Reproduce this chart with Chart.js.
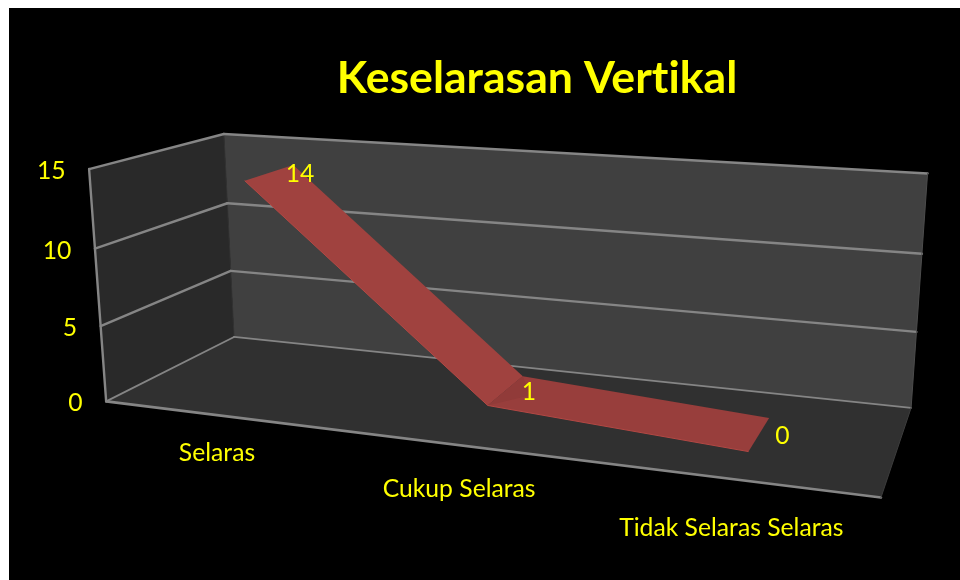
<!DOCTYPE html>
<html><head><meta charset="utf-8">
<style>html,body{margin:0;padding:0;background:#fff;overflow:hidden}#wrap{position:absolute;left:0;top:0;width:960px;height:580px}</style>
<script src="https://cdn.jsdelivr.net/npm/chart.js@4"></script>
</head><body><div id="wrap"><canvas id="c" width="960" height="580"></canvas></div>
<script>
const titleText = 'Keselarasan Vertikal';
const categories = ['Selaras', 'Cukup Selaras', 'Tidak Selaras Selaras'];
const values = [14, 1, 0];
const yTicks = [0, 5, 10, 15];

const FONT = 'Lato, Carlito, sans-serif';
const YELLOW = '#ffff00';
// Box corners as seen in the picture: [u, depth, height] -> [px, py]
const anchors = [
 [0,0,0,105.5,401.7],[1,0,0,881,497.3],[1,1,0,911.7,408],[0,1,0,234,336.7],
 [0,0,1,88.3,169.3],[0,1,1,224,134],[1,1,1,928.3,173.3],
 [0,0,1/3,101.3,326],[0,0,2/3,95.7,248.3],[0,1,1/3,230.7,271],[0,1,2/3,227.3,203.3],
 [1,1,1/3,916,332],[1,1,2/3,921,254]
];
function solveCamera(){
  const A=[],b=[];
  for(const [u,v,w,x,y] of anchors){
    const X=x/500,Y=y/500;
    A.push([u,v,w,1,0,0,0,0,-X*u,-X*v,-X*w]);b.push(X);
    A.push([0,0,0,0,u,v,w,1,-Y*u,-Y*v,-Y*w]);b.push(Y);
  }
  const n=11,M=[];
  for(let i=0;i<n;i++){M.push(new Array(n+1).fill(0));
    for(let j=0;j<n;j++)for(let r=0;r<A.length;r++)M[i][j]+=A[r][i]*A[r][j];
    for(let r=0;r<A.length;r++)M[i][n]+=A[r][i]*b[r];}
  for(let i=0;i<n;i++){let p=i;for(let r=i+1;r<n;r++)if(Math.abs(M[r][i])>Math.abs(M[p][i]))p=r;
    [M[i],M[p]]=[M[p],M[i]];
    for(let r=0;r<n;r++){if(r===i)continue;const f=M[r][i]/M[i][i];for(let c=i;c<=n;c++)M[r][c]-=f*M[i][c];}}
  return M.map((row,i)=>row[n]/row[i]);
}
const cam=solveCamera();
function project(u,v,w){
  const d=cam[8]*u+cam[9]*v+cam[10]*w+1;
  return [500*(cam[0]*u+cam[1]*v+cam[2]*w+cam[3])/d,500*(cam[4]*u+cam[5]*v+cam[6]*w+cam[7])/d];
}
const RIBBON_FRONT=0.29, RIBBON_BACK=0.69;
function boxPoint(chart,i,val,depth){
  const x=chart.scales.x,y=chart.scales.y;
  return project((x.getPixelForValue(i)-x.left)/x.width,depth,(y.bottom-y.getPixelForValue(val))/y.height);
}
function poly(ctx,pts,fill){ctx.beginPath();pts.forEach((p,i)=>i?ctx.lineTo(p[0],p[1]):ctx.moveTo(p[0],p[1]));ctx.closePath();ctx.fillStyle=fill;ctx.fill();}
function seg(ctx,a,b,color,lw){ctx.beginPath();ctx.moveTo(a[0],a[1]);ctx.lineTo(b[0],b[1]);ctx.strokeStyle=color;ctx.lineWidth=lw;ctx.lineCap='round';ctx.stroke();}

const scene={
  id:'scene',
  beforeDraw(chart){
    const c=chart.ctx;c.save();c.fillStyle='#000';c.fillRect(9,8,951,572);c.restore();
    c.letterSpacing='0.01px';
  },
  afterDatasetsUpdate(chart){
    const pts=chart.getDatasetMeta(0).data;
    pts.forEach((p,i)=>{const q=boxPoint(chart,i,values[i],RIBBON_FRONT);p.x=q[0];p.y=q[1];});
  },
  beforeDatasetsDraw(chart){
    const c=chart.ctx;c.save();
    const P=project;
    poly(c,[P(0,1,0),P(1,1,0),P(1,1,1),P(0,1,1)],'#404040');
    poly(c,[P(0,0,0),P(0,1,0),P(0,1,1),P(0,0,1)],'#292929');
    poly(c,[P(0,0,0),P(1,0,0),P(1,1,0),P(0,1,0)],'#303030');
    seg(c,P(0,1,0),P(0,1,1),'#333333',1);
    const y=chart.scales.y;
    y.ticks.forEach(t=>{
      const w=(y.bottom-y.getPixelForValue(t.value))/y.height;
      const lw=t.value===0?1.8:2.4;
      seg(c,P(0,0,w),P(0,1,w),'#858585',lw);
      seg(c,P(0,1,w),P(1,1,w),'#858585',lw);
    });
    seg(c,P(0,0,0),P(0,0,1),'#858585',2.4);
    seg(c,P(0,0,0),P(1,0,0),'#858585',2.6);
    seg(c,P(1,0,0),P(1,1,0),'#3c3c3c',1);
    seg(c,P(1,1,0),P(1,1,1),'#4c4c4c',1);
    const segFill=['#a0423f','#983e3c'];
    for(let i=0;i<values.length-1;i++){
      poly(c,[boxPoint(chart,i,values[i],RIBBON_FRONT),boxPoint(chart,i+1,values[i+1],RIBBON_FRONT),
              boxPoint(chart,i+1,values[i+1],RIBBON_BACK),boxPoint(chart,i,values[i],RIBBON_BACK)],segFill[i]);
    }
    // soft fold where the ribbon turns at the middle category
    const mf=boxPoint(chart,1,values[1],RIBBON_FRONT),mb=boxPoint(chart,1,values[1],RIBBON_BACK);
    const ef=boxPoint(chart,2,values[2],RIBBON_FRONT),eb=boxPoint(chart,2,values[2],RIBBON_BACK);
    const k=0.1,wedge=[(mf[0]+mb[0])/2+k*((ef[0]+eb[0])/2-(mf[0]+mb[0])/2),(mf[1]+mb[1])/2+k*((ef[1]+eb[1])/2-(mf[1]+mb[1])/2)];
    poly(c,[mf,mb,wedge],'#913b39');
    c.restore();
  },
  afterDatasetsDraw(chart){
    const c=chart.ctx;c.save();
    c.fillStyle=YELLOW;c.font='24.7px '+FONT;c.textBaseline='middle';
    const y=chart.scales.y;
    c.textAlign='right';
    y.ticks.forEach(t=>{
      const w=(y.bottom-y.getPixelForValue(t.value))/y.height;
      const p=project(0,0,w);
      c.fillText(String(t.value),p[0]-23.5,p[1]+2);
    });
    c.textAlign='center';
    categories.forEach((lab,i)=>{
      const p=boxPoint(chart,i,0,0);
      c.fillText(lab,p[0]-0.5,p[1]+38+(p[0]-217)*0.022);
    });
    c.textAlign='left';
    values.forEach((val,i)=>{
      const p=boxPoint(chart,i,val,(RIBBON_FRONT+RIBBON_BACK)/2);
      c.fillText(String(val),p[0]+16,p[1]+1.5);
    });
    c.restore();
  }
};

new Chart(document.getElementById('c'),{
  type:'line',
  data:{labels:categories,datasets:[{label:titleText,data:values,borderColor:'#b34844',borderWidth:1,pointRadius:0,tension:0,fill:false,clip:false}]},
  options:{
    responsive:false,animation:false,
    layout:{padding:{left:114,top:0,right:0,bottom:0}},
    plugins:{
      legend:{display:false},tooltip:{enabled:false},
      title:{display:true,text:titleText,color:YELLOW,font:{family:FONT,size:44.6,weight:'bold'},padding:{top:52,bottom:10}}
    },
    scales:{
      x:{type:'category',display:false,offset:true},
      y:{type:'linear',display:false,min:0,max:15,afterBuildTicks(s){s.ticks=yTicks.map(value=>({value}));}}
    }
  },
  plugins:[scene]
});
</script></body></html>
